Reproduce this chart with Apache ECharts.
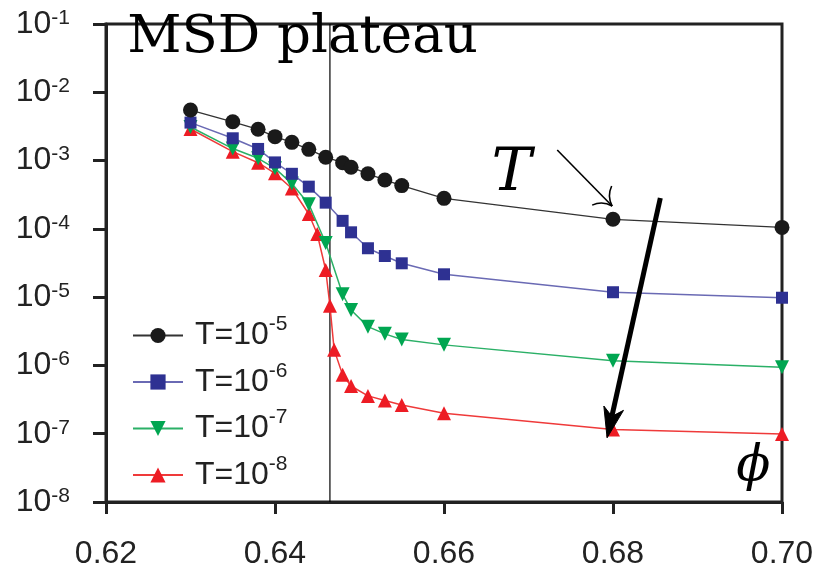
<!DOCTYPE html>
<html>
<head>
<meta charset="utf-8">
<script src="https://cdn.jsdelivr.net/npm/echarts@6/dist/echarts.min.js"></script>
<style>html,body{margin:0;padding:0;background:#fff;}#c{width:820px;height:575px;}</style>
</head>
<body>
<div id="c"></div>
<script>
// ---- data ----
const phiA = [0.630,0.635,0.638,0.640,0.642,0.644,0.646,0.648,0.649,0.651,0.653,0.655,0.660,0.680,0.700];
const msdT5 = [5.5e-3,3.7e-3,2.87e-3,2.24e-3,1.85e-3,1.46e-3,1.12e-3,9.3e-4,8.0e-4,6.4e-4,5.2e-4,4.3e-4,2.8e-4,1.38e-4,1.05e-4];
const msdT6 = [3.6e-3,2.12e-3,1.48e-3,9.4e-4,6.4e-4,4.15e-4,2.42e-4,1.31e-4,8.9e-5,5.2e-5,4.0e-5,3.13e-5,2.16e-5,1.18e-5,9.8e-6];
const msdT7 = [3.1e-3,1.5e-3,1.08e-3,7.7e-4,4.6e-4,2.3e-4,6.2e-5,1.1e-5,6.5e-6,3.7e-6,2.9e-6,2.4e-6,2.0e-6,1.17e-6,9.4e-7];
const phiR = [0.630,0.635,0.638,0.640,0.642,0.644,0.645,0.646,0.6465,0.647,0.648,0.649,0.651,0.653,0.655,0.660,0.680,0.700];
const msdT8 = [2.9e-3,1.35e-3,9.3e-4,6.5e-4,3.9e-4,1.65e-4,8.4e-5,2.5e-5,7.5e-6,1.69e-6,7.3e-7,5.0e-7,3.58e-7,3.06e-7,2.64e-7,2.0e-7,1.15e-7,9.9e-8];
const tempExp = ['-5','-6','-7','-8'];
const xTicks = [0.62,0.64,0.66,0.68,0.70];
const yExp = [-8,-7,-6,-5,-4,-3,-2,-1];
const phiTransition = 0.6465;
const yRange = [1e-8, 1e-1];
// annotation anchors in data coordinates
const titlePos = [0.6225, 5.1e-2];
const tLabelPos = [0.6680, 6.2e-4];
const phiLabelPos = [0.6966, 3.2e-8];
const thinArrow = [[0.6734, 1.43e-3],[0.6799, 2.16e-4]];
const thickArrow = [[0.6856, 2.83e-4],[0.6793, 8.7e-8]];

const FONT = 'Liberation Sans, Arial, sans-serif';
const TXT = '#222';
const names = tempExp.map(e => 'T=10^' + e);

function zip(xs, ys){ return xs.map((x,i)=>[x, ys[i]]); }

const chart = echarts.init(document.getElementById('c'), null, {renderer:'canvas'});
const axisRich = {
  b:{fontFamily:FONT, fontSize:32, color:TXT, lineHeight:36},
  s:{fontFamily:FONT, fontSize:21, color:TXT, padding:[0,0,12,0], lineHeight:20}
};
const legRich = {
  b:{fontFamily:FONT, fontSize:32, color:TXT, lineHeight:36},
  s:{fontFamily:FONT, fontSize:21, color:TXT, padding:[0,0,22,0], lineHeight:20}
};

const option = {
  animation:false,
  backgroundColor:'#fff',
  grid:{left:106, right:38, top:24, bottom:73, show:true, borderColor:'#222', borderWidth:3, backgroundColor:'transparent'},
  xAxis:{
    type:'value', min:xTicks[0], max:xTicks[xTicks.length-1], interval:0.02,
    axisLine:{show:true, lineStyle:{color:'#222', width:3}},
    axisTick:{show:true, length:12, lineStyle:{color:'#222', width:3}},
    splitLine:{show:false},
    axisLabel:{margin:36, fontFamily:FONT, fontSize:32, color:TXT, formatter:v=>v.toFixed(2)}
  },
  yAxis:{
    type:'log', logBase:10, min:Math.pow(10,yExp[0]), max:Math.pow(10,yExp[yExp.length-1]), interval:1,
    axisLine:{show:true, lineStyle:{color:'#222', width:3}},
    axisTick:{show:true, length:13, lineStyle:{color:'#222', width:3}},
    splitLine:{show:false},
    axisLabel:{margin:36, formatter:v=>'{b|10}{s|' + Math.round(Math.log10(v)) + '}', rich:axisRich}
  },
  legend:{
    orient:'vertical', left:132, top:314, itemWidth:50, itemHeight:19, itemGap:3.5, padding:0,
    data:names,
    formatter:n=>'{b|T=10}{s|' + n.split('^')[1] + '}',
    textStyle:{rich:legRich, padding:[0,0,0,7]}
  },
  series:[
    {name:'transition', type:'line', data:[[phiTransition,yRange[0]],[phiTransition,yRange[1]]], symbol:'none',
     lineStyle:{color:'#000', width:1.2}, silent:true, z:1},
    {name:names[0], type:'line', data:zip(phiA,msdT5), symbol:'circle', symbolSize:15,
     itemStyle:{color:'#1a1a1a'}, lineStyle:{color:'#333', width:1.3}, z:5},
    {name:names[1], type:'line', data:zip(phiA,msdT6), symbol:'rect', symbolSize:12,
     itemStyle:{color:'#2e3192'}, lineStyle:{color:'#6a6ab4', width:1.5}, z:4},
    {name:names[2], type:'line', data:zip(phiA,msdT7), symbol:'triangle', symbolRotate:180, symbolSize:14,
     itemStyle:{color:'#00a651'}, lineStyle:{color:'#2bb067', width:1.5}, z:3},
    {name:names[3], type:'line', data:zip(phiR,msdT8), symbol:'triangle', symbolSize:14,
     itemStyle:{color:'#ed1c24'}, lineStyle:{color:'#ef3a3a', width:1.5}, z:2}
  ]
};
chart.setOption(option);

function px(p){ return chart.convertToPixel({gridIndex:0}, p); }
function arrowBarbs(a, b, len, ang){
  const dx = b[0]-a[0], dy = b[1]-a[1];
  const th = Math.atan2(dy, dx);
  const l = [b[0]-len*Math.cos(th-ang), b[1]-len*Math.sin(th-ang)];
  const r = [b[0]-len*Math.cos(th+ang), b[1]-len*Math.sin(th+ang)];
  return {th, l, r};
}
const tp = px(titlePos), tl = px(tLabelPos), pl = px(phiLabelPos);
const a1 = px(thinArrow[0]), b1 = px(thinArrow[1]);
const a2 = px(thickArrow[0]), b2 = px(thickArrow[1]);
const h1 = arrowBarbs(a1, b1, 20, 0.75);
const h2 = arrowBarbs(a2, b2, 32, 0.32);
const notch = [b2[0]-22*Math.cos(h2.th), b2[1]-22*Math.sin(h2.th)];
function ctrl(tip, end, bend){
  const mx=(tip[0]+end[0])/2, my=(tip[1]+end[1])/2;
  const dx=end[0]-tip[0], dy=end[1]-tip[1];
  return [mx - dy*bend, my + dx*bend];
}
const c1l = ctrl(b1, h1.l, 0.25), c1r = ctrl(b1, h1.r, -0.25);

chart.setOption({
  graphic:[
    {type:'text', left:tp[0], top:tp[1]-32, z:50, style:{text:'MSD plateau', font:'53px "DejaVu Serif", serif', fill:'#000'}},
    {type:'text', x:tl[0], y:tl[1], z:50, style:{text:'T', font:'italic 60px "DejaVu Serif", serif', fill:'#000', align:'center', verticalAlign:'middle'}},
    {type:'text', x:pl[0], y:pl[1], z:50, style:{text:'\u03D5', font:'italic 50px "DejaVu Serif", serif', fill:'#000', align:'center', verticalAlign:'middle'}},
    {type:'line', z:50, shape:{x1:a1[0], y1:a1[1], x2:b1[0], y2:b1[1]}, style:{stroke:'#000', lineWidth:1.6}},
    {type:'bezierCurve', z:50, shape:{x1:b1[0], y1:b1[1], x2:h1.l[0], y2:h1.l[1], cpx1:c1l[0], cpy1:c1l[1]}, style:{stroke:'#000', lineWidth:1.6, fill:null}},
    {type:'bezierCurve', z:50, shape:{x1:b1[0], y1:b1[1], x2:h1.r[0], y2:h1.r[1], cpx1:c1r[0], cpy1:c1r[1]}, style:{stroke:'#000', lineWidth:1.6, fill:null}},
    {type:'line', z:50, shape:{x1:a2[0], y1:a2[1], x2:notch[0], y2:notch[1]}, style:{stroke:'#000', lineWidth:5}},
    {type:'polygon', z:50, shape:{points:[b2, h2.l, notch, h2.r]}, style:{fill:'#000', stroke:'#000', lineWidth:1}}
  ]
});
</script>
</body>
</html>
